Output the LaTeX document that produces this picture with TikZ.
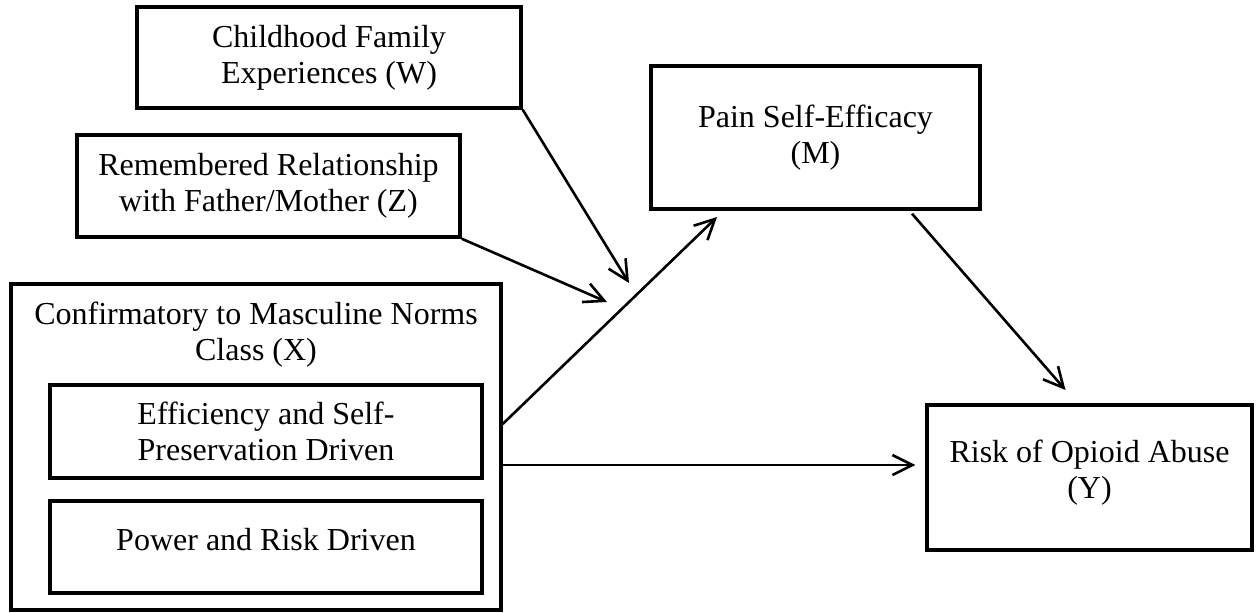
\documentclass[tikz,border=0pt]{standalone}
\usepackage{fontspec}
\setmainfont{Liberation Serif}
\usetikzlibrary{arrows.meta}

\newcommand{\raiseby}[2]{\raisebox{#1}[\height][\depth]{#2}}

\begin{document}
\begin{tikzpicture}[x=0.5pt,y=-0.5pt]
			\tikzstyle{every node}+=[inner sep=0pt, align=center, font=\fontsize{16}{18}\selectfont]
			\tikzstyle{box}=[draw=black, line width=1.7pt]
			\tikzstyle{arr}=[draw=black, line width=1.3pt, -{Straight Barb[length=10pt,width=10pt]}]
			\useasboundingbox (0,0) rectangle (1256,612);
			% moderators
			\node [box, minimum width=192pt, minimum height=50.5pt] (W) at (329,57.5) {Childhood Family\\Experiences (W)};
			\node [box, minimum width=191.5pt, minimum height=51pt] (Z) at (268.5,186) {Remembered Relationship\\with Father/Mother (Z)};
			% predictor with its two classes
			\node [box, minimum width=245pt, minimum height=163pt] (X) at (256,447) {};
			\node [anchor=north] (Xtitle) at ([yshift=-9.5pt]X.north) {Confirmatory to Masculine Norms\\Class (X)};
			\node [box, minimum width=216pt, minimum height=46.5pt] (E) at (266,431.5) {Efficiency and Self-\\Preservation Driven};
			\node [box, minimum width=216pt, minimum height=46pt] (P) at (266,547) {\raiseby{3.5pt}{Power and Risk Driven}};
			% mediator and outcome
			\node [box, minimum width=164.5pt, minimum height=71.5pt] (M) at (815.5,137.5) {Pain Self-Efficacy\\(M)};
			\node [box, minimum width=162.5pt, minimum height=72.5pt] (Y) at (1089.5,477.5) {\raiseby{2.5pt}{Risk of Opioid Abuse}\\\raiseby{2.5pt}{(Y)}};
			\coordinate (Wend) at (629,283);
			\coordinate (Zend) at (607,302);
			\coordinate (XY) at ([yshift=-9pt]X.east);
			% paths
			\draw [arr] (W.south east) -- (Wend);
			\draw [arr] (Z.south east) -- (Zend);
			\draw [arr] ([yshift=11.5pt]X.east) -- ([xshift=33.85pt,yshift=-3.15pt]M.south west);
			\draw [arr] ([xshift=48.25pt,yshift=-1.5pt]M.south) -- ([xshift=-12pt,yshift=6.65pt]Y.north);
			\draw [arr, shorten >=5pt] (XY) -- (XY -| Y.west);
\end{tikzpicture}
\end{document}
